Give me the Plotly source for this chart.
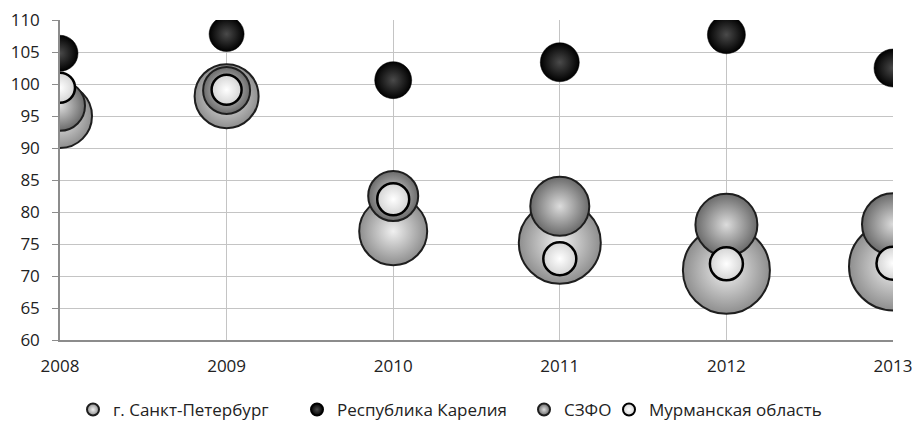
import plotly.graph_objects as go

years = [2008, 2009, 2010, 2011, 2012, 2013]

spb_vals = [95.0, 98.1, 77.0, 75.2, 70.9, 71.5]
spb_size = [64, 64, 68, 82, 87, 88]

karelia_vals = [104.8, 107.8, 100.6, 103.4, 107.7, 102.5]
karelia_size = [36, 35, 37, 39, 38, 38]

szfo_vals = [96.6, 99.0, 82.5, 80.9, 78.0, 78.1]
szfo_size = [50, 47, 50, 59, 62, 62]

murm_vals = [99.4, 99.1, 82.0, 72.7, 71.9, 72.0]
murm_size = [30, 30, 32, 33, 33, 33]

names = ["г. Санкт-Петербург", "Республика Карелия", "СЗФО", "Мурманская область"]

FONT = "Open Sans"
W, H = 915, 422

fig = go.Figure()

def add(name, vals, sizes, edge, center, line_color, line_w, leg):
    fig.add_trace(go.Scatter(
        x=years, y=vals, mode="markers", name=name, legend=leg,
        marker=dict(size=sizes, sizemode="diameter", sizeref=1,
                    color=edge,
                    gradient=dict(type="radial", color=center),
                    line=dict(color=line_color, width=line_w),
                    opacity=1),
    ))

add(names[0], spb_vals, spb_size, "#8e8e8e", "#f0f0f0", "#1e1e1e", 2, "legend")
add(names[1], karelia_vals, karelia_size, "#000000", "#4a4a4a", "#000000", 0.5, "legend2")
add(names[2], szfo_vals, szfo_size, "#6a6a6a", "#dcdcdc", "#1e1e1e", 2, "legend3")
add(names[3], murm_vals, murm_size, "#d4d4d4", "#ffffff", "#000000", 2.5, "legend4")

text_starts = [109, 333, 560, 645]

def leg(px):
    return dict(orientation="h", x=(px - 36) / W, y=(H - 410) / H,
                xref="container", yref="container",
                xanchor="left", yanchor="middle",
                font=dict(family=FONT, size=17, color="#222222"),
                itemsizing="constant", itemwidth=30, bgcolor="rgba(0,0,0,0)")

fig.update_layout(
    width=W, height=H,
    margin=dict(l=60, r=22, t=20, b=82, autoexpand=False),
    paper_bgcolor="white", plot_bgcolor="white",
    font=dict(family=FONT, size=17, color="#222222"),
    showlegend=True,
    legend=leg(text_starts[0]),
    legend2=leg(text_starts[1]),
    legend3=leg(text_starts[2]),
    legend4=leg(text_starts[3]),
)
fig.update_xaxes(
    range=[2008, 2013], tickmode="array", tickvals=years,
    ticktext=[str(y) for y in years],
    showgrid=True, gridcolor="#c4c4c4", gridwidth=1,
    showline=True, linecolor="#8c8c8c", linewidth=1.5,
    ticks="", ticklabelstandoff=10, zeroline=False, automargin=False,
)
fig.update_yaxes(
    range=[60, 110], dtick=5, tick0=60,
    showgrid=True, gridcolor="#c4c4c4", gridwidth=1,
    showline=True, linecolor="#8c8c8c", linewidth=1.5,
    ticks="outside", ticklen=6, tickcolor="#8c8c8c", ticklabelstandoff=9,
    zeroline=False, automargin=False,
)

fig.write_html("out.html", config={"displayModeBar": False},
               post_script="document.body.style.margin='0';")
